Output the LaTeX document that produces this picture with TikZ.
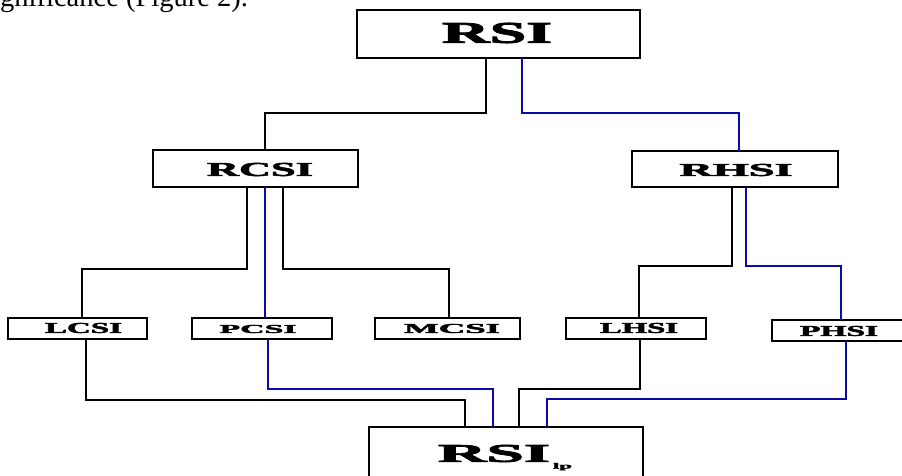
\documentclass[tikz,border=0pt]{standalone}
\usepackage{fontspec}
\setmainfont{Liberation Serif}
\newfontfamily\heavyfont[FakeBold=2.5]{Liberation Serif Bold}
\usepackage{graphicx}
\definecolor{linkblue}{RGB}{10,10,165}
% heavy, widely stretched capitals for the index names
\newcommand{\idxname}[3]{\resizebox{#1pt}{#2pt}{\heavyfont #3}}
\tikzset{
  ibox/.style={draw=black, line width=1.3pt, anchor=north west, inner sep=0pt, outer sep=0pt},
  lbl/.style={inner sep=0pt, outer sep=0pt},
  blk/.style={draw=black, line width=1.2pt},
  blu/.style={draw=linkblue, line width=1.2pt},
}
\newcommand{\boxat}[5]{\node[ibox, minimum width=#4pt-#2pt, minimum height=#5pt-#3pt] (#1) at (#2,#3) {};}
\begin{document}
\begin{tikzpicture}[x=1pt,y=-1pt]
\clip (0,0) rectangle (902,476);
\fill[white] (0,0) rectangle (902,476);

% running text above the chart
\node[anchor=base west, inner sep=0pt, font=\fontsize{28.5pt}{30pt}\selectfont] (caption) at (-19,7) {significance (Figure 2).};

% boxes
\boxat{rsi}{357}{10}{640}{58}
\boxat{rcsi}{153}{150}{358}{187}
\boxat{rhsi}{632}{151}{838}{187}
\boxat{lcsi}{8}{318}{147}{339}
\boxat{pcsi}{192}{318}{332}{339}
\boxat{mcsi}{375}{318}{520}{339}
\boxat{lhsi}{566}{318}{706}{339}
\boxat{phsi}{772}{320}{908}{341}
\boxat{rsilp}{369}{427}{643}{484}

% labels
\node[lbl] (rsit)   at (497,33)    {\idxname{110}{20}{RSI}};
\node[lbl] (rcsit)  at (260,169.5) {\idxname{106}{13}{RCSI}};
\node[lbl] (rhsit)  at (736,170)   {\idxname{113}{12}{RHSI}};
\node[lbl] (lcsit)  at (83.5,328)  {\idxname{77}{10}{LCSI}};
\node[lbl] (pcsit)  at (258,329)   {\idxname{77}{8}{PCSI}};
\node[lbl] (mcsit)  at (452,328.5) {\idxname{96}{9}{MCSI}};
\node[lbl] (lhsit)  at (639,328)   {\idxname{78}{10}{LHSI}};
\node[lbl] (phsit)  at (839,331)   {\idxname{78}{10}{PHSI}};
\node[lbl] (rsilpt) at (494,453.5) {\idxname{112}{17}{RSI}};
\node[lbl, anchor=north west] (lpt) at (553,463) {\resizebox{19pt}{5.5pt}{\heavyfont lp}};

% first level
\draw[blk] (rsi.south -| 486,0) |- (265,113) -- (rcsi.north -| 265,0);
\draw[blu] (rsi.south -| 522,0) |- (739,113) -- (rhsi.north -| 739,0);

% second level
\draw[blk] (rcsi.south -| 247,0) |- (82,269) -- (lcsi.north -| 82,0);
\draw[blu] (rcsi.south -| 265,0) -- (pcsi.north -| 265,0);
\draw[blk] (rcsi.south -| 283,0) |- (449,269) -- (mcsi.north -| 449,0);
\draw[blk] (rhsi.south -| 732,0) |- (639,266) -- (lhsi.north -| 639,0);
\draw[blu] (rhsi.south -| 746,0) |- (841,266) -- (phsi.north -| 841,0);

% into the combined index
\draw[blk] (lcsi.south -| 86,0)  |- (465,400) -- (rsilp.north -| 465,0);
\draw[blu] (pcsi.south -| 268,0) |- (493,389) -- (rsilp.north -| 493,0);
\draw[blk] (lhsi.south -| 640,0) |- (519,389) -- (rsilp.north -| 519,0);
\draw[blu] (phsi.south -| 846,0) |- (547,399) -- (rsilp.north -| 547,0);
\end{tikzpicture}
\end{document}
